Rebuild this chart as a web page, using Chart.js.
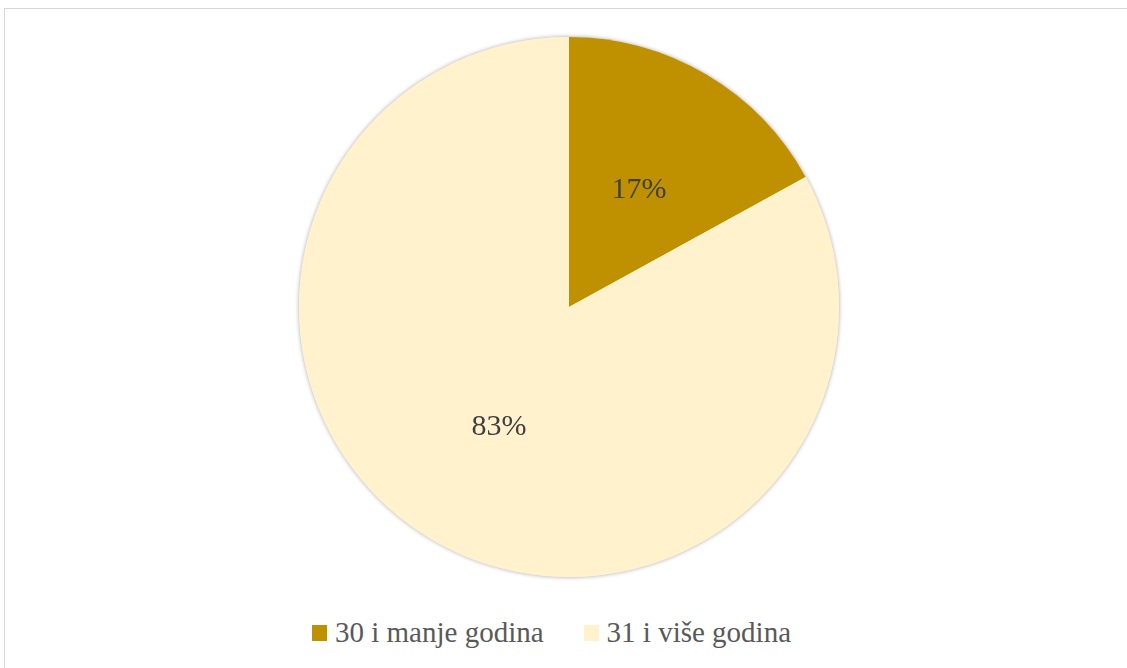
<!DOCTYPE html>
<html>
<head>
<meta charset="utf-8">
<script src="https://cdn.jsdelivr.net/npm/chart.js@4"></script>
<style>
    html, body { margin: 0; padding: 0; background: #fff; }
    body { width: 1127px; height: 668px; position: relative; overflow: hidden; }
    #frame {
        position: absolute; left: 4px; top: 8px; right: 0; bottom: 0;
        border-top: 1px solid #d6d6d6; border-left: 1px solid #d6d6d6;
    }
    #chartBox { position: absolute; left: 0; top: 0; width: 1127px; height: 610px; }
    #legend {
        position: absolute; left: 312px; top: 614px; height: 36px;
        display: flex; align-items: center;
        font-family: "Liberation Serif", "Times New Roman", Times, Tinos, "Noto Serif", "DejaVu Serif", FreeSerif, serif;
        font-size: 29px; color: #595959; white-space: nowrap;
    }
    .item { display: flex; align-items: center; margin-right: 40px; }
    .swatch { width: 15px; height: 16px; margin-right: 8px; margin-top: 1px; }
</style>
</head>
<body>
<div id="frame"></div>
<div id="chartBox"><canvas id="pieChart"></canvas></div>
<div id="legend"></div>
<script>
// data
const categories = ['30 i manje godina', '31 i više godina'];
const shares = [17, 83];
const sliceColors = ['#BF9000', '#FFF2CC'];

const labelFont = '30px "Liberation Serif", "Times New Roman", Times, Tinos, "Noto Serif", "DejaVu Serif", FreeSerif, serif';

// soft shadow behind the whole pie
const pieShadow = {
    id: 'pieShadow',
    beforeDatasetsDraw(chart) {
        const arc = chart.getDatasetMeta(0).data[0];
        if (!arc) return;
        const { x, y, outerRadius } = arc.getProps(['x', 'y', 'outerRadius'], true);
        const ctx = chart.ctx;
        ctx.save();
        ctx.shadowColor = 'rgba(0,0,0,0.35)';
        ctx.shadowBlur = 4;
        ctx.beginPath();
        ctx.arc(x, y, outerRadius, 0, Math.PI * 2);
        ctx.fillStyle = '#FFF2CC';
        ctx.fill();
        ctx.restore();
    }
};

// percentage labels inside each slice
const sliceLabels = {
    id: 'sliceLabels',
    afterDatasetsDraw(chart) {
        const ctx = chart.ctx;
        const values = chart.data.datasets[0].data;
        ctx.save();
        ctx.font = labelFont;
        ctx.fillStyle = '#404040';
        ctx.textAlign = 'center';
        ctx.textBaseline = 'middle';
        chart.getDatasetMeta(0).data.forEach((arc, i) => {
            const p = arc.getProps(['x', 'y', 'startAngle', 'endAngle', 'outerRadius'], true);
            const mid = (p.startAngle + p.endAngle) / 2;
            const r = p.outerRadius * 0.51;
            ctx.fillText(values[i] + '%', p.x + Math.cos(mid) * r, p.y + Math.sin(mid) * r + 2);
        });
        ctx.restore();
    }
};

function draw() {
    new Chart(document.getElementById('pieChart').getContext('2d'), {
        type: 'pie',
        data: {
            labels: categories,
            datasets: [{
                data: shares,
                backgroundColor: sliceColors,
                borderWidth: 0,
                hoverOffset: 0
            }]
        },
        options: {
            responsive: true,
            maintainAspectRatio: false,
            animation: false,
            events: [],
            layout: { padding: { top: 37, bottom: 33, left: 11, right: 0 } },
            plugins: {
                legend: { display: false },
                tooltip: { enabled: false }
            }
        },
        plugins: [pieShadow, sliceLabels]
    });
}

// legend built from the same arrays
const legend = document.getElementById('legend');
categories.forEach((name, i) => {
    const item = document.createElement('div');
    item.className = 'item';
    const sw = document.createElement('span');
    sw.className = 'swatch';
    sw.style.background = sliceColors[i];
    const txt = document.createElement('span');
    txt.textContent = name;
    item.appendChild(sw);
    item.appendChild(txt);
    legend.appendChild(item);
});

// make sure the canvas font is ready before drawing
document.fonts.load(labelFont).then(draw, draw);
</script>
</body>
</html>
